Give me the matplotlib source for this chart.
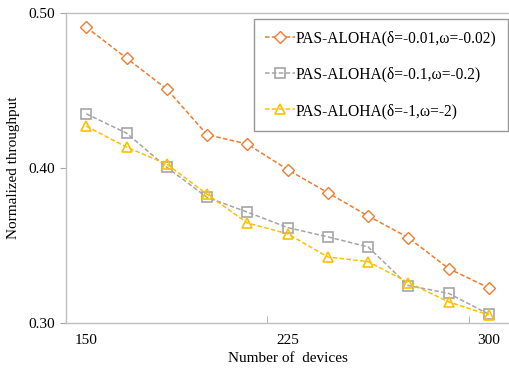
import matplotlib
matplotlib.use("Agg")
import matplotlib.pyplot as plt
import numpy as np

# Data
devices = [150, 165, 180, 195, 210, 225, 240, 255, 270, 285, 300]
tick_labels = ["150", "225", "300"]
pas_001 = [0.491, 0.471, 0.451, 0.4215, 0.4155, 0.399, 0.384, 0.369, 0.355, 0.335, 0.3225]
pas_01 = [0.435, 0.4225, 0.4005, 0.381, 0.3715, 0.3615, 0.3555, 0.349, 0.324, 0.319, 0.3055]
pas_1 = [0.427, 0.4135, 0.4025, 0.383, 0.3645, 0.3575, 0.3425, 0.3395, 0.326, 0.3135, 0.305]

plt.rcParams["font.family"] = ["Liberation Serif", "DejaVu Serif"]

fig = plt.figure(figsize=(5.09, 3.68), dpi=100)
ax = fig.add_axes([0.13, 0.123, 0.87, 0.841])

x = np.arange(len(devices))
ax.plot(x, pas_001, color="#ED7D31", ls="--", lw=1.1, marker="D", ms=6,
        mfc="white", mec="#ED7D31", mew=1.0, dashes=(3, 1.5),
        label="PAS-ALOHA(δ=-0.01,ω=-0.02)")
ax.plot(x, pas_01, color="#A5A5A5", ls="--", lw=1.1, marker="s", ms=7,
        mfc="none", mec="#A5A5A5", mew=1.2, dashes=(3, 1.5),
        label="PAS-ALOHA(δ=-0.1,ω=-0.2)")
ax.plot(x, pas_1, color="#FFC000", ls="--", lw=1.1, marker="^", ms=7,
        mfc="none", mec="#FFC000", mew=1.2, dashes=(3, 1.5),
        label="PAS-ALOHA(δ=-1,ω=-2)")

ax.set_xlim(-0.5, len(devices) - 0.5)
ax.set_ylim(0.30, 0.50)
ax.set_yticks([0.30, 0.40, 0.50])
ax.set_yticklabels(["0.30", "0.40", "0.50"])
ax.set_xticks([0, 5, 10])
ax.set_xticklabels(tick_labels)
ax.set_xticks([4.5, 9.5], minor=True)
ax.tick_params(axis="x", which="major", length=0, pad=8, labelsize=11)
ax.tick_params(axis="x", which="minor", direction="in", length=5, color="#A6A6A6")
ax.tick_params(axis="y", which="major", direction="out", length=4, color="#A6A6A6",
               labelsize=11, pad=4)

for s in ["left", "bottom", "top"]:
    ax.spines[s].set_color("#BFBFBF")
    ax.spines[s].set_linewidth(1.0)
ax.spines["right"].set_visible(False)

ax.set_xlabel("Number of  devices", fontsize=11, labelpad=4)
ax.set_ylabel("Normalized throughput", fontsize=11, labelpad=6)

leg = ax.legend(loc="upper right", bbox_to_anchor=(0.998, 0.982), fontsize=11.2,
                frameon=True, fancybox=False, edgecolor="#7F7F7F",
                handlelength=1.9, labelspacing=1.3, borderpad=0.75,
                handletextpad=0.05, borderaxespad=0)
leg.get_frame().set_linewidth(1.0)

fig.savefig("out.png", dpi=100)
